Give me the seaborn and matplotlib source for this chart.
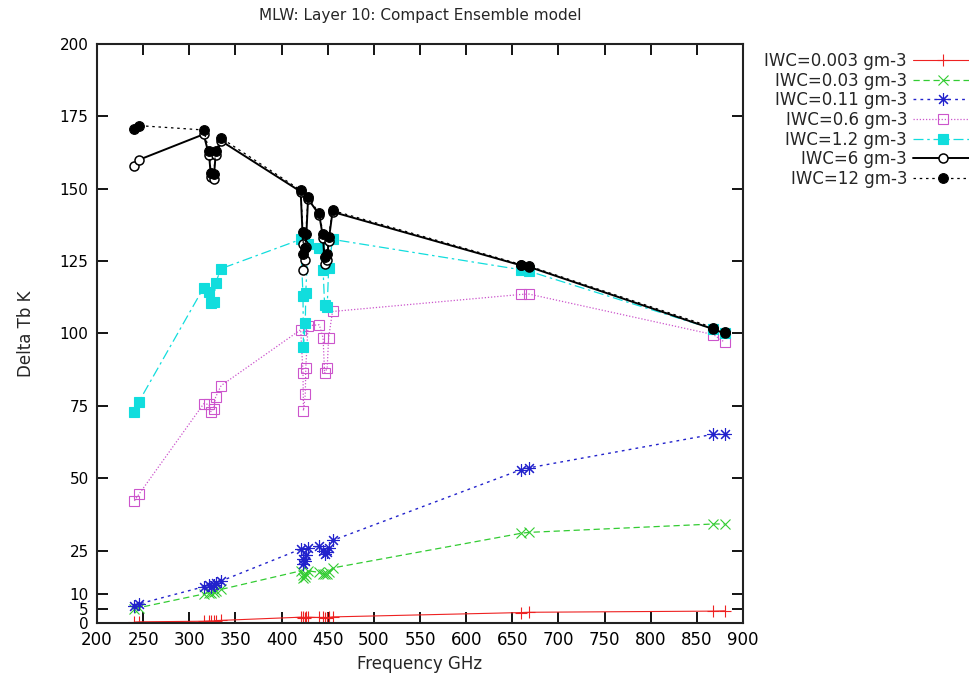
import numpy as np
import pandas as pd
import matplotlib
matplotlib.use("Agg")
import matplotlib.pyplot as plt
import seaborn as sns

# channel frequencies (GHz)
freq = [240.5, 245.5, 315.5, 321.5, 323.5, 326.5, 328.5, 334.5,
        420.7, 423.2, 423.7, 425.7, 426.2, 428.7,
        440.8, 445.0, 446.6, 449.4, 451.0, 455.2,
        659.8, 668.2, 868.0, 880.0]

# delta Tb (K) per ice water content
iwc_0003 = [0.3, 0.4, 0.6, 0.7, 0.7, 0.7, 0.8, 0.9,
            2.0, 1.9, 1.8, 1.8, 1.9, 2.0,
            1.9, 1.9, 1.8, 1.8, 1.9, 2.1,
            3.6, 3.7, 4.1, 4.2]
iwc_003 = [4.8, 5.3, 10.0, 10.5, 10.2, 10.8, 11.0, 11.6,
           18.0, 16.5, 15.5, 16.0, 17.0, 18.0,
           17.5, 17.0, 16.8, 17.0, 17.5, 19.0,
           31.0, 31.3, 34.2, 34.2]
iwc_011 = [6.0, 6.6, 12.5, 13.0, 12.6, 13.2, 13.8, 14.5,
           25.5, 22.0, 20.5, 21.5, 23.5, 26.0,
           26.5, 25.0, 24.0, 24.5, 26.0, 28.5,
           53.0, 53.6, 65.2, 65.3]
iwc_06 = [42.2, 44.5, 75.7, 75.5, 73.0, 74.0, 78.0, 82.0,
          101.3, 86.5, 73.3, 79.0, 88.0, 102.7,
          103.0, 98.4, 86.3, 88.0, 98.6, 107.6,
          113.5, 113.6, 99.6, 97.0]
iwc_12 = [73.0, 76.5, 115.8, 114.4, 110.6, 111.0, 117.5, 122.4,
          132.5, 113.0, 95.5, 103.5, 114.0, 131.0,
          129.5, 122.0, 110.0, 109.0, 122.5, 132.5,
          122.0, 121.5, 101.5, 100.0]
iwc_6 = [158.0, 160.0, 168.8, 161.5, 154.0, 153.5, 161.5, 166.5,
         149.0, 131.0, 122.0, 125.5, 130.0, 146.5,
         141.0, 133.0, 124.0, 125.5, 132.0, 142.0,
         123.5, 123.0, 101.5, 100.0]
iwc_12g = [170.8, 171.8, 170.3, 163.0, 155.5, 155.0, 163.0, 167.5,
           149.5, 135.0, 127.5, 129.5, 134.5, 147.0,
           141.5, 134.5, 126.5, 127.5, 133.5, 142.5,
           123.8, 123.3, 102.0, 100.6]

labels = ["IWC=0.003 gm-3", "IWC=0.03 gm-3", "IWC=0.11 gm-3", "IWC=0.6 gm-3",
          "IWC=1.2 gm-3", "IWC=6 gm-3", "IWC=12 gm-3"]
values = [iwc_0003, iwc_003, iwc_011, iwc_06, iwc_12, iwc_6, iwc_12g]

styles = [
    dict(color="#ee2222", linestyle="-", lw=0.8, marker="+", markersize=9,
         markeredgecolor="#ee2222", markeredgewidth=0.8),
    dict(color="#33cc33", linestyle=(0, (5, 3)), lw=0.9, marker="x", markersize=7,
         markeredgecolor="#33cc33", markeredgewidth=0.8),
    dict(color="#2222cc", linestyle=(0, (2, 3)), lw=1.0, marker=(8, 2, 0), markersize=9,
         markeredgecolor="#2222cc", markeredgewidth=0.8),
    dict(color="#cc55cc", linestyle=(0, (1, 1.5)), lw=0.9, marker="s", markersize=6.5,
         markerfacecolor="none", markeredgecolor="#cc55cc", markeredgewidth=0.8),
    dict(color="#11dddd", linestyle=(0, (8, 3, 2, 3)), lw=0.9, marker="s", markersize=6.5,
         markerfacecolor="#11dddd", markeredgecolor="#11dddd", markeredgewidth=0.8),
    dict(color="black", linestyle="-", lw=1.4, marker="o", markersize=6.5,
         markerfacecolor="white", markeredgecolor="black", markeredgewidth=1.1),
    dict(color="black", linestyle=(0, (2, 3)), lw=0.9, marker="o", markersize=7,
         markerfacecolor="black", markeredgecolor="black", markeredgewidth=0.8),
]

sns.set_theme(style="ticks")
plt.rcParams['font.family'] = ['DejaVu Sans']

fig = plt.figure(figsize=(9.7, 6.84), dpi=100)
ax = fig.add_axes([0.1, 0.0892, 0.666, 0.8465])

for lab, vals, st in zip(labels, values, styles):
    df = pd.DataFrame({"freq": freq, "tb": vals})
    sns.lineplot(data=df, x="freq", y="tb", ax=ax, label=lab, estimator=None,
                 errorbar=None, sort=False, **st)

ax.set_xlim(200, 900)
ax.set_ylim(0, 200)
ax.set_xticks(np.arange(200, 901, 50))
ax.set_yticks([0, 5, 10, 25, 50, 75, 100, 125, 150, 175, 200])
ax.tick_params(direction="in", length=8, width=1.3, top=True, right=True,
               labelsize=12, colors="black", pad=6)
ax.tick_params(axis="y", labelsize=11)
for sp in ax.spines.values():
    sp.set_linewidth(1.5)
    sp.set_color("#222222")

ax.set_title("MLW: Layer 10: Compact Ensemble model", fontsize=11, pad=17)
ax.set_xlabel("Frequency GHz", fontsize=12)
ax.set_ylabel("Delta Tb K", fontsize=12, labelpad=18)

ax.legend(loc="upper right", bbox_to_anchor=(1.003, 0.924), bbox_transform=fig.transFigure,
          markerfirst=False, frameon=False, handlelength=3.6, handletextpad=0.35,
          labelspacing=0.1, fontsize=12, numpoints=1, borderpad=0, borderaxespad=0)

fig.savefig("out.png", dpi=100)
